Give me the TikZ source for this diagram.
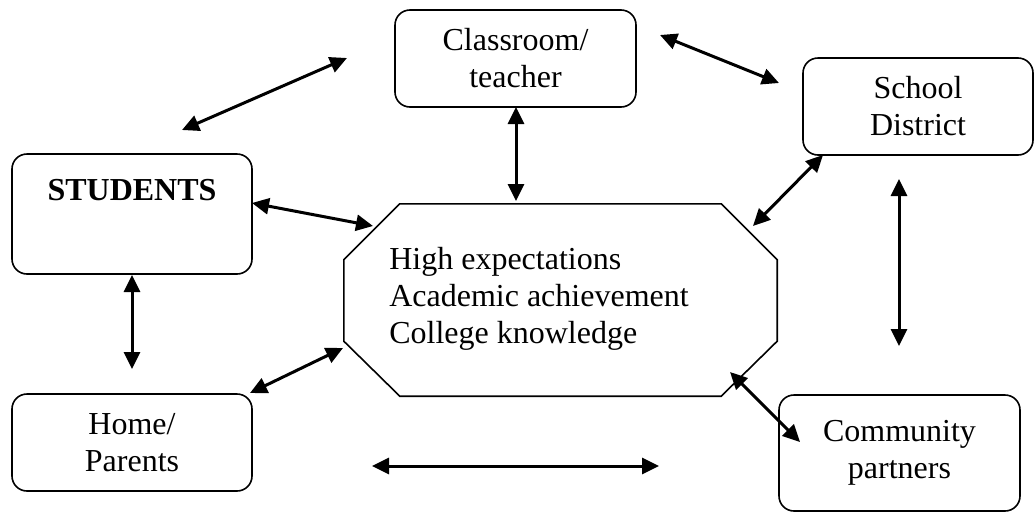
\documentclass[tikz,border=0pt]{standalone}
\usepackage{fontspec}
\setmainfont{Liberation Serif}
\usetikzlibrary{positioning, arrows.meta}
\tikzset{box/.style={draw,rounded corners=15pt,line width=1.6pt,align=center,inner sep=0pt}}
\tikzset{link/.style={>={Triangle[length=17pt,width=16pt]},<->,line width=3pt}}
\tikzset{hubline/.style={line width=1.6pt,line join=miter}}

\begin{document}
\begin{tikzpicture}[
                x = 1pt, y = -1pt,
                every node/.style={font=\fontsize{32}{37}\selectfont}
            ]
                \useasboundingbox (0,0) rectangle (1034,512);

                % the five partners
                \node[box, minimum width=241pt, minimum height=97pt] (classroom) at (515.5,58.5) {Classroom/\\teacher};
                \node[box, minimum width=230pt, minimum height=97pt] (district) at (918,106.5) {School\\District};
                \node[box, minimum width=240pt, inner ysep=24pt, text height=22pt, text depth=50pt] (students) at (132,214) {\textbf{STUDENTS}};
                \node[box, minimum width=240pt, minimum height=97pt] (home) at (132,442.5) {Home/\\Parents};
                \node[box, minimum width=241pt, minimum height=116pt] (community) at (899.5,453) {Community\\partners};

                % centre octagon
                \node[minimum width=433pt, minimum height=192pt, inner sep=0pt] (hub) at (560.5,300) {};
                \draw[hubline] ([xshift=56pt]hub.north west) -- ([xshift=-56pt]hub.north east)
                    -- ([yshift=-56pt]hub.north east) -- ([yshift=55pt]hub.south east)
                    -- ([xshift=-56pt]hub.south east) -- ([xshift=56pt]hub.south west)
                    -- ([yshift=55pt]hub.south west) -- ([yshift=-56pt]hub.north west) -- cycle;
                \node[align=left, inner sep=0pt] (goals) at (539,298.5) {High expectations\\Academic achievement\\College knowledge};

                % free arrow ends
                \coordinate (sc1) at (182,130);
                \coordinate (sc2) at (347,58);
                \coordinate (ch1) at (516,107);
                \coordinate (ch2) at (516,201);
                \coordinate (cd1) at (660,35);
                \coordinate (cd2) at (779,83);
                \coordinate (sh1) at (252,203);
                \coordinate (sh2) at (373,226);
                \coordinate (sp1) at (132,275);
                \coordinate (sp2) at (132,369);
                \coordinate (ph1) at (250,393);
                \coordinate (ph2) at (343,348);
                \coordinate (pc1) at (372,466);
                \coordinate (pc2) at (659,466);
                \coordinate (hd1) at (753,226);
                \coordinate (hd2) at (823,155);
                \coordinate (dc1) at (899,179);
                \coordinate (dc2) at (899,346);
                \coordinate (hc1) at (730,372);
                \coordinate (hc2) at (800,442);

                \draw[link] (sc1) -- (sc2);
                \draw[link] (ch1) -- (ch2);
                \draw[link] (cd1) -- (cd2);
                \draw[link] (sh1) -- (sh2);
                \draw[link] (sp1) -- (sp2);
                \draw[link] (ph1) -- (ph2);
                \draw[link] (pc1) -- (pc2);
                \draw[link] (hd1) -- (hd2);
                \draw[link] (dc1) -- (dc2);
                \draw[link] (hc1) -- (hc2);
            \end{tikzpicture}
\end{document}
